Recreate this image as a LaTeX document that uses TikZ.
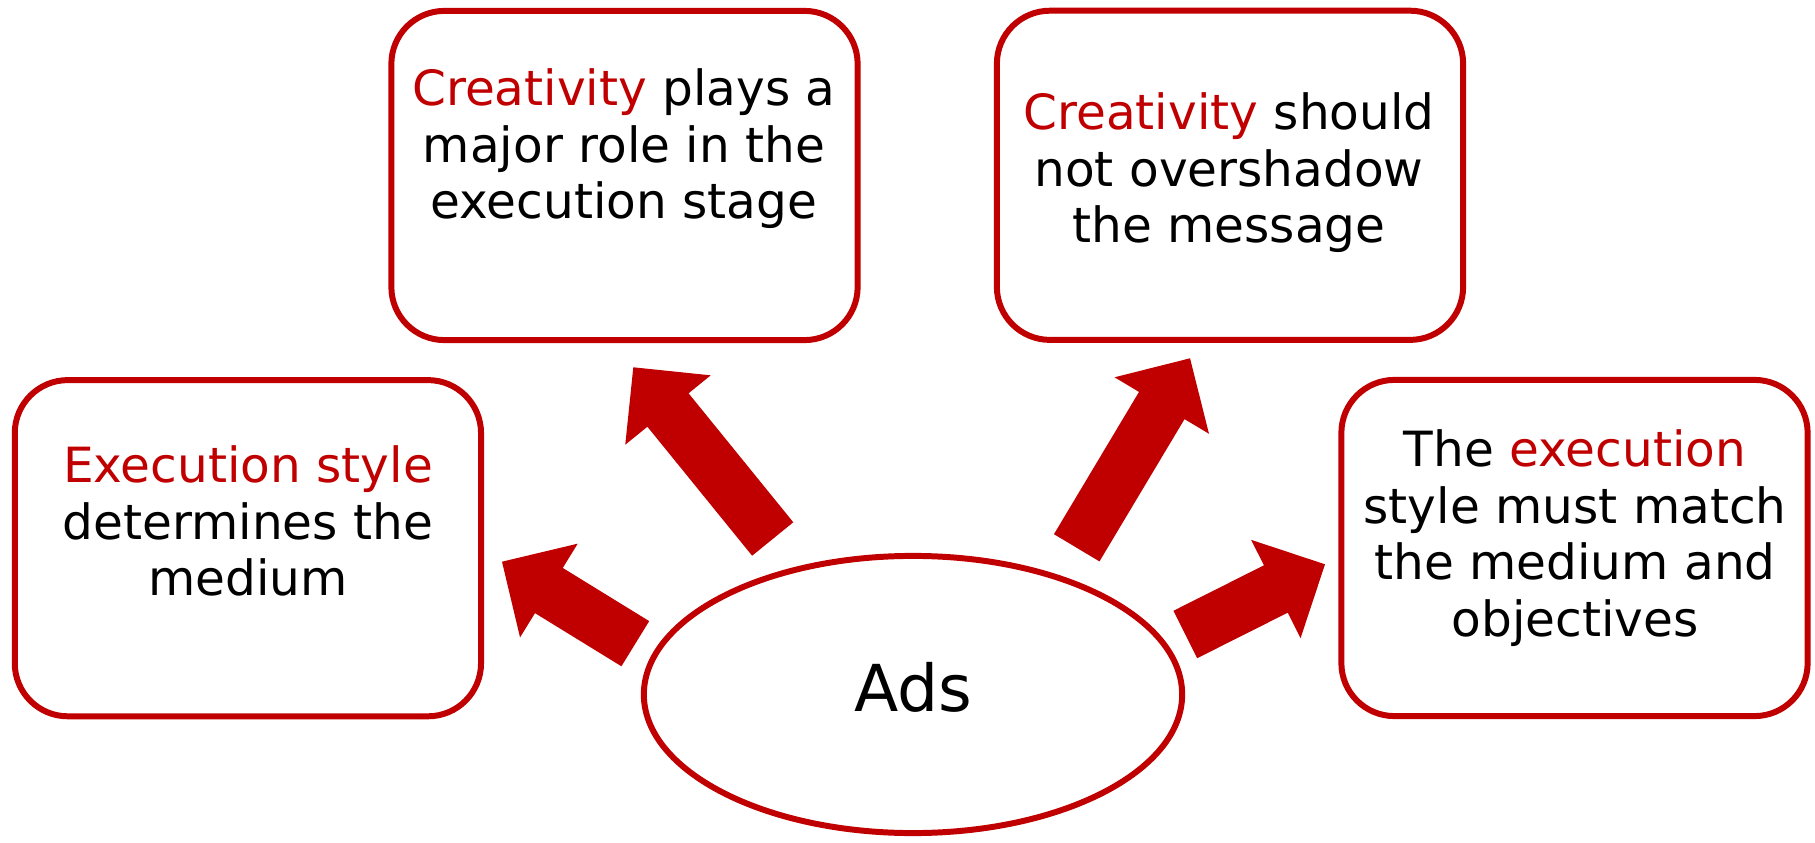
\documentclass[tikz,border=0pt]{standalone}
\usepackage{fontspec}
\setmainfont{DejaVu Sans}
\usetikzlibrary{calc}
\usetikzlibrary{shapes.geometric}
\definecolor{adsred}{RGB}{192,0,0}
\newcommand{\fatarrow}[2]{%
  \coordinate (#1n) at ($(#2)!0.55cm!(#1)$);
  \fill[adsred] ($(#1)!0.265cm!90:(#2)$) -- ($(#1n)!0.265cm!-90:(#1)$)
    -- ($(#1n)!0.55cm!-90:(#1)$) -- (#2) -- ($(#1n)!0.55cm!90:(#1)$)
    -- ($(#1n)!0.265cm!90:(#1)$) -- ($(#1)!0.265cm!-90:(#2)$) -- cycle;}

\begin{document}
\begin{tikzpicture}[x=0.01cm,y=-0.01cm,
    box/.style={draw=adsred,line width=1.7pt,rounded corners=0.53cm,minimum width=4.66cm},
    txt/.style={align=center,inner sep=0pt,anchor=north,font=\fontsize{13.8pt}{16.1pt}\selectfont}]
    \useasboundingbox (0,0) rectangle (1815,843);
    \node[box,minimum height=3.36cm] (style) at (247.9,548.2) {};
    \node[box,minimum height=3.29cm] (role) at (624.5,175.5) {};
    \node[box,minimum height=3.29cm] (shadow) at (1230,175.3) {};
    \node[box,minimum height=3.36cm] (match) at (1574.5,548) {};
    \node[draw=adsred,line width=1.7pt,ellipse,minimum width=5.38cm,minimum height=2.77cm,
      font=\fontsize{18.4pt}{22pt}\selectfont,text depth=0.144cm] (ads) at (913,694.5) {Ads};
    \node[txt] (styletxt) at (248,445.1) {\textcolor{adsred}{Execution style}\\determines the\\medium};
    \node[txt] (roletxt) at (624,68.1) {\textcolor{adsred}{Creativity} plays a\\major role in the\\execution stage};
    \node[txt] (shadowtxt) at (1229,92.1) {\textcolor{adsred}{Creativity} should\\not overshadow\\the message};
    \node[txt] (matchtxt) at (1575,429.1) {The \textcolor{adsred}{execution}\\style must match\\the medium and\\objectives};
    \coordinate (tostyle) at (635.3,643.7);
    \coordinate (styleend) at (502,561.7);
    \coordinate (torole) at (772.7,539);
    \coordinate (roleend) at (633.3,367.3);
    \coordinate (toshadow) at (1076.7,547.8);
    \coordinate (shadowend) at (1190,358.3);
    \coordinate (tomatch) at (1185.3,634.5);
    \coordinate (matchend) at (1325,564.3);
    \fatarrow{tostyle}{styleend}
    \fatarrow{torole}{roleend}
    \fatarrow{toshadow}{shadowend}
    \fatarrow{tomatch}{matchend}
  \end{tikzpicture}
\end{document}
